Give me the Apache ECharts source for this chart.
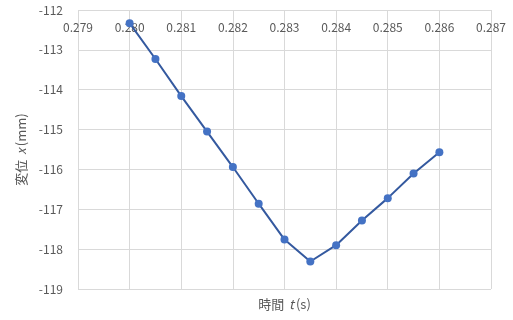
<!DOCTYPE html>
<html>
<head>
<meta charset="utf-8">
<script src="https://cdn.jsdelivr.net/npm/echarts@6/dist/echarts.min.js"></script>
<style>
  html, body { margin: 0; padding: 0; background: #fff; }
  #chart { width: 513px; height: 320px; }
</style>
</head>
<body>
<div id="chart"></div>
<script>
// Time samples (s) and measured displacement (mm)
const times = [0.2800, 0.2805, 0.2810, 0.2815, 0.2820, 0.2825, 0.2830,
               0.2835, 0.2840, 0.2845, 0.2850, 0.2855, 0.2860];
const displacement = [-112.33, -113.23, -114.16, -115.05, -115.94, -116.86, -117.76,
                      -118.31, -117.90, -117.28, -116.72, -116.10, -115.57];

const xRange = { min: 0.279, max: 0.287, step: 0.001 };
const yRange = { min: -119, max: -112, step: 1 };

const FONT = '"Noto Sans CJK JP", "Noto Sans", sans-serif';
const GREY = '#595959';
const GRID = '#d9d9d9';

const points = times.map((t, i) => [t, displacement[i]]);

const titleRich = {
  n: { color: GREY, fontSize: 13, fontFamily: FONT },
  i: { color: GREY, fontSize: 13, fontFamily: FONT, fontStyle: 'italic', padding: [0, 2, 0, 2] }
};

const chart = echarts.init(document.getElementById('chart'), null, { renderer: 'canvas' });
chart.setOption({
  animation: false,
  backgroundColor: '#fff',
  grid: { left: 78, right: 22, top: 10, bottom: 31 },
  xAxis: [
    {
      type: 'value',
      position: 'top',
      min: xRange.min, max: xRange.max, interval: xRange.step,
      axisLine: { show: false },
      axisTick: { show: false },
      splitLine: { show: true, lineStyle: { color: GRID, width: 1 } },
      axisLabel: {
        inside: true, margin: 11,
        color: GREY, fontSize: 12, fontFamily: FONT,
        formatter: v => v.toFixed(3)
      }
    },
    {
      type: 'value',
      position: 'bottom',
      min: xRange.min, max: xRange.max,
      axisLine: { show: false }, axisTick: { show: false },
      axisLabel: { show: false }, splitLine: { show: false },
      name: '{n|時間 }{i|t}{n|(s)}',
      nameLocation: 'middle',
      nameGap: 9,
      nameTextStyle: { rich: titleRich }
    }
  ],
  yAxis: {
    type: 'value',
    min: yRange.min, max: yRange.max, interval: yRange.step,
    axisLine: { show: false },
    axisTick: { show: false },
    splitLine: { show: true, lineStyle: { color: GRID, width: 1 } },
    axisLabel: { color: GREY, fontSize: 12, fontFamily: FONT, margin: 15 },
    name: '{n|変位 }{i|x}{n|(mm)}',
    nameLocation: 'middle',
    nameGap: 48,
    nameRotate: 90,
    nameTextStyle: { rich: titleRich }
  },
  series: [{
    type: 'line',
    xAxisIndex: 0,
    data: points,
    symbol: 'circle',
    symbolSize: 8,
    lineStyle: { color: '#34599f', width: 2 },
    itemStyle: { color: '#4472c4' }
  }]
});
</script>
</body>
</html>
